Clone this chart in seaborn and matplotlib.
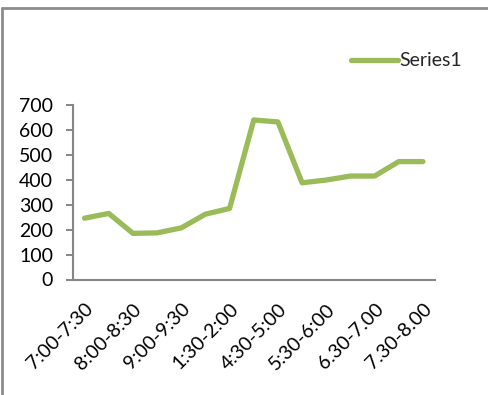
import numpy as np
import pandas as pd
import matplotlib
matplotlib.use("Agg")
import matplotlib.pyplot as plt
from matplotlib.lines import Line2D
import seaborn as sns

# Time slots (every other one is labelled on the axis)
slots = ["7:00-7:30", "7:30-8:00", "8:00-8:30", "8:30-9:00", "9:00-9:30",
         "9:30-10:00", "1:30-2:00", "2:00-2:30", "4:30-5:00", "5:00-5:30",
         "5:30-6:00", "6:00-6.30", "6.30-7.00", "7.00-7.30", "7.30-8.00"]
series1 = [246, 265, 185, 187, 207, 262, 285, 640, 632, 388, 399, 415, 415, 473, 473]
y_ticks = [0, 100, 200, 300, 400, 500, 600, 700]

sns.set_style("white")
plt.rcParams["font.family"] = ["Lato", "DejaVu Sans"]

green = "#9BBB59"
grey = "#868686"

df = pd.DataFrame({"pos": np.arange(len(slots)), "value": series1, "series": "Series1"})

fig = plt.figure(figsize=(4.89, 3.95), dpi=100)
W, H = 489, 395
ax = fig.add_axes([72.5 / W, (H - 279.5) / H, (435 - 72.5) / W, (279.5 - 105) / H])

sns.lineplot(data=df, x="pos", y="value", hue="series", palette=[green],
             linewidth=3.8, ax=ax, legend=True)

ax.set_xlim(-0.5, len(slots) - 0.5)
ax.set_ylim(0, 700)
ax.set_yticks(y_ticks)
ax.set_yticklabels([str(v) for v in y_ticks])

# labels at every other slot, tick marks between slots
ax.set_xticks(np.arange(0, len(slots), 2))
ax.set_xticklabels(slots[::2], rotation=45, ha="right", rotation_mode="anchor")
ax.set_xticks(np.arange(-0.5, len(slots), 1), minor=True)
ax.tick_params(axis="x", which="major", length=0, pad=15, labelsize=14, colors="black")
ax.tick_params(axis="x", which="minor", length=5, width=1.4, color=grey, direction="out")
ax.tick_params(axis="y", length=5, width=1.4, color=grey, direction="out",
               pad=9, labelsize=14, labelcolor="black", left=True)

ax.set_xlabel("")
ax.set_ylabel("")
for side in ("top", "right"):
    ax.spines[side].set_visible(False)
for side in ("left", "bottom"):
    ax.spines[side].set_color(grey)
    ax.spines[side].set_linewidth(1.5)

handles, labels = ax.get_legend_handles_labels()
ax.legend(handles, labels, loc="center left", bbox_to_anchor=(351 / W, (H - 61) / H),
          bbox_transform=fig.transFigure, frameon=False, fontsize=14,
          handlelength=2.4, handletextpad=0.1, borderpad=0, borderaxespad=0)

# outer chart frame
fig.add_artist(Line2D([2 / W, 1.0], [(H - 8) / H, (H - 8) / H], transform=fig.transFigure,
                      color="#8C8C8C", linewidth=2))
fig.add_artist(Line2D([2 / W, 2 / W], [0, (H - 8) / H], transform=fig.transFigure,
                      color="#8C8C8C", linewidth=2))

fig.savefig("out.png", dpi=100)
